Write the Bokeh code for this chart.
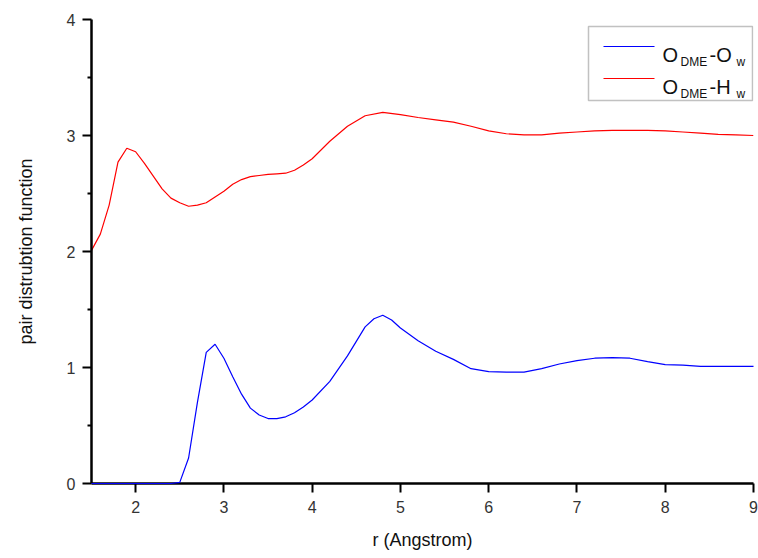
from bokeh.plotting import figure
from bokeh.models import (Range1d, FixedTicker, Label, BoxAnnotation, Arrow)
from bokeh.embed import file_html
from bokeh.resources import INLINE

# ---- data ----
r_ow = [1.5, 2.4, 2.5, 2.6, 2.7, 2.8, 2.9, 3.0, 3.1, 3.2, 3.3, 3.4, 3.5, 3.6,
        3.7, 3.8, 3.9, 4.0, 4.2, 4.4, 4.6, 4.7, 4.8, 4.9, 5.0, 5.2, 5.4, 5.6,
        5.8, 6.0, 6.2, 6.4, 6.6, 6.8, 7.0, 7.2, 7.4, 7.6, 7.8, 8.0, 8.2, 8.4,
        8.6, 8.8, 9.0]
g_ow = [0.0, 0.0, 0.01, 0.22, 0.70, 1.13, 1.20, 1.08, 0.92, 0.77, 0.65, 0.59,
        0.56, 0.56, 0.575, 0.61, 0.66, 0.72, 0.88, 1.10, 1.35, 1.42, 1.45, 1.41,
        1.34, 1.23, 1.14, 1.07, 0.99, 0.965, 0.96, 0.96, 0.99, 1.03, 1.06, 1.08,
        1.085, 1.08, 1.05, 1.025, 1.02, 1.01, 1.01, 1.01, 1.01]

r_hw = [1.5, 1.6, 1.7, 1.8, 1.9, 2.0, 2.1, 2.2, 2.3, 2.4, 2.5, 2.6, 2.7, 2.8,
        2.9, 3.0, 3.1, 3.2, 3.3, 3.4, 3.5, 3.6, 3.7, 3.8, 3.9, 4.0, 4.2, 4.4,
        4.6, 4.8, 5.0, 5.2, 5.4, 5.6, 5.8, 6.0, 6.2, 6.4, 6.6, 6.8, 7.0, 7.2,
        7.4, 7.6, 7.8, 8.0, 8.2, 8.4, 8.6, 8.8, 9.0]
g_hw = [2.01, 2.15, 2.40, 2.77, 2.89, 2.86, 2.76, 2.65, 2.54, 2.46, 2.42, 2.39,
        2.40, 2.42, 2.47, 2.52, 2.58, 2.62, 2.645, 2.655, 2.665, 2.67, 2.675,
        2.70, 2.745, 2.80, 2.95, 3.08, 3.17, 3.20, 3.18, 3.155, 3.135, 3.115,
        3.08, 3.04, 3.015, 3.005, 3.005, 3.02, 3.03, 3.04, 3.045, 3.045, 3.045,
        3.04, 3.03, 3.02, 3.01, 3.005, 3.0]

x_ticks = [2, 3, 4, 5, 6, 7, 8, 9]
y_ticks = [0, 1, 2, 3, 4]
y_minor = [0.5, 1.5, 2.5, 3.5]

x_label = "r (Angstrom)"
y_label = "pair distrubtion function"

series_colors = ["#0000ff", "#ff0000"]

FONT = "Liberation Sans"

p = figure(width=758, height=558, output_backend="svg", toolbar_location=None,
           x_range=Range1d(1.5, 9), y_range=Range1d(0, 4))
p.min_border_left = 91
p.min_border_right = 5
p.min_border_top = 19
p.min_border_bottom = 75
p.outline_line_color = None
p.grid.visible = False
p.background_fill_color = "white"
p.border_fill_color = "white"

p.line(r_hw, g_hw, line_color=series_colors[1], line_width=1.2)
p.line(r_ow, g_ow, line_color=series_colors[0], line_width=1.2, level="overlay")

# axes
xa = p.xaxis[0]
ya = p.yaxis[0]
xa.ticker = FixedTicker(ticks=x_ticks, minor_ticks=[])
ya.ticker = FixedTicker(ticks=y_ticks, minor_ticks=y_minor)
for ax in (xa, ya):
    ax.axis_line_color = "black"
    ax.axis_line_width = 2.5
    ax.major_tick_line_color = "black"
    ax.major_tick_line_width = 2
    ax.major_tick_in = 0
    ax.major_tick_out = 9
    ax.minor_tick_line_color = "black"
    ax.minor_tick_line_width = 2
    ax.minor_tick_in = 0
    ax.minor_tick_out = 4
    ax.major_label_text_font = FONT
    ax.major_label_text_font_size = "16px"
    ax.major_label_text_color = "#333333"
    ax.axis_label_text_font = FONT
    ax.axis_label_text_font_size = "18px"
    ax.axis_label_text_font_style = "normal"
    ax.axis_label_text_color = "#111111"
xa.axis_label = x_label
ya.axis_label = y_label
xa.major_label_standoff = 8
ya.major_label_standoff = 7
xa.axis_label_standoff = 14
ya.axis_label_standoff = 28

# ---- legend (drawn manually so the subscripts can be shown) ----
box = BoxAnnotation(left=497, right=661, top=457, bottom=383,
                    left_units="screen", right_units="screen",
                    top_units="screen", bottom_units="screen",
                    fill_color="white", fill_alpha=1.0,
                    line_color="#333333", line_width=1.5)
p.add_layout(box)

rows = [
    (437, series_colors[0], "O", "DME", "-O", "w"),
    (405, series_colors[1], "O", "DME", "-H", "w"),
]
for y, col, a, b, c, d in rows:
    p.add_layout(Arrow(end=None, x_start=512, y_start=y, x_end=563, y_end=y,
                       start_units="screen", end_units="screen",
                       line_color=col, line_width=1.2))
    base = y - 8
    sub = y - 15
    p.add_layout(Label(x=571, y=base, x_units="screen", y_units="screen",
                       text=a, text_font=FONT, text_font_size="20px",
                       text_color="#111111", text_baseline="alphabetic"))
    p.add_layout(Label(x=589, y=sub, x_units="screen", y_units="screen",
                       text=b, text_font=FONT, text_font_size="12px",
                       text_color="#111111", text_baseline="alphabetic"))
    p.add_layout(Label(x=618, y=base, x_units="screen", y_units="screen",
                       text=c, text_font=FONT, text_font_size="20px",
                       text_color="#111111", text_baseline="alphabetic"))
    p.add_layout(Label(x=645, y=sub, x_units="screen", y_units="screen",
                       text=d, text_font=FONT, text_font_size="12px",
                       text_color="#111111", text_baseline="alphabetic"))

open("out.html", "w").write(file_html(p, INLINE))
